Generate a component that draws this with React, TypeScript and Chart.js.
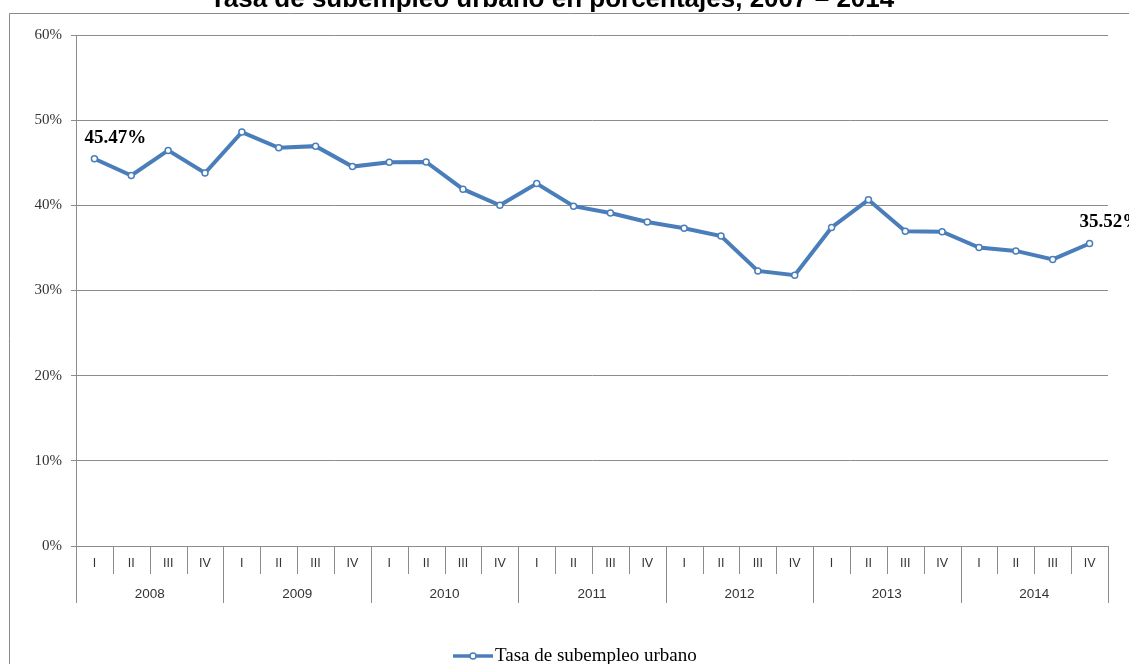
import React, { useEffect, useRef } from "react";
import { Chart, registerables } from "chart.js";

Chart.register(...registerables);

const TITLE = "Tasa de subempleo urbano en porcentajes, 2007 – 2014";
const SERIES_NAME = "Tasa de subempleo urbano";
const YEARS = ["2008", "2009", "2010", "2011", "2012", "2013", "2014"];
const QUARTERS = ["I", "II", "III", "IV"];
const CATEGORIES: string[] = YEARS.flatMap((y) => QUARTERS.map((q) => `${y} ${q}`));
const VALUES = [
  45.47, 43.5, 46.45, 43.8,
  48.6, 46.75, 46.95, 44.55,
  45.05, 45.1, 41.9, 40.0,
  42.55, 39.9, 39.1, 38.05,
  37.3, 36.4, 32.3, 31.8,
  37.4, 40.65, 36.95, 36.9,
  35.05, 34.65, 33.65, 35.52,
];
const Y_TICKS = [0, 10, 20, 30, 40, 50, 60];
const LABELED_INDEXES = [0, 27];

const BLUE = "#4a7ebb";
const GRID = "#8c8c8c";

export default function App() {
  const ref = useRef<HTMLCanvasElement | null>(null);

  useEffect(() => {
    if (!ref.current) return;
    const overlay = {
      id: "overlay",
      afterDraw(chart: any) {
        const ctx = chart.ctx as CanvasRenderingContext2D;
        const xs = chart.scales.x;
        const area = chart.chartArea;
        const n = CATEGORIES.length;
        const w = (area.right - area.left) / n;
        ctx.save();
        // outer frame
        ctx.strokeStyle = "#8a8a8a";
        ctx.lineWidth = 1;
        ctx.beginPath();
        ctx.moveTo(9.5, 664);
        ctx.lineTo(9.5, 13.5);
        ctx.lineTo(1129, 13.5);
        ctx.stroke();
        // title
        ctx.fillStyle = "#000";
        ctx.font = "bold 26px 'Liberation Sans', Arial, sans-serif";
        ctx.textAlign = "center";
        ctx.textBaseline = "alphabetic";
        ctx.fillText(TITLE, 552, 7);
        // category separators
        ctx.strokeStyle = GRID;
        for (let i = 0; i <= n; i++) {
          const x = Math.round(area.left + i * w) + 0.5;
          ctx.beginPath();
          ctx.moveTo(x, area.bottom);
          ctx.lineTo(x, i % 4 === 0 ? area.bottom + 57 : area.bottom + 28);
          ctx.stroke();
        }
        ctx.fillStyle = "#333";
        ctx.font = "12.5px 'Liberation Sans', Arial, sans-serif";
        ctx.textBaseline = "middle";
        ctx.textAlign = "center";
        for (let i = 0; i < n; i++) {
          const x = xs.getPixelForValue(i);
          ctx.fillText(QUARTERS[i % 4], x, area.bottom + 18);
        }
        ctx.font = "13.5px 'Liberation Sans', Arial, sans-serif";
        YEARS.forEach((y, j) => {
          const x = (xs.getPixelForValue(j * 4) + xs.getPixelForValue(j * 4 + 3)) / 2;
          ctx.fillText(y, x, area.bottom + 48);
        });
        // data labels
        const meta = chart.getDatasetMeta(0);
        ctx.fillStyle = "#000";
        ctx.font = "bold 19px 'Liberation Serif', 'Times New Roman', serif";
        ctx.textAlign = "left";
        ctx.textBaseline = "middle";
        LABELED_INDEXES.forEach((idx) => {
          const p = meta.data[idx];
          const txt = VALUES[idx].toFixed(2) + "%";
          ctx.fillText(txt, p.x - 10, p.y - 21);
        });
        // legend
        const ly = 656;
        ctx.strokeStyle = BLUE;
        ctx.lineWidth = 3.5;
        ctx.beginPath();
        ctx.moveTo(453, ly);
        ctx.lineTo(493, ly);
        ctx.stroke();
        ctx.beginPath();
        ctx.arc(473, ly, 3, 0, Math.PI * 2);
        ctx.fillStyle = "#fff";
        ctx.fill();
        ctx.lineWidth = 1.5;
        ctx.stroke();
        ctx.fillStyle = "#000";
        ctx.font = "19px 'Liberation Serif', 'Times New Roman', serif";
        ctx.textAlign = "left";
        ctx.textBaseline = "middle";
        ctx.fillText(SERIES_NAME, 495, ly);
        ctx.restore();
      },
    };

    const chart = new Chart(ref.current, {
      type: "line",
      data: {
        labels: CATEGORIES,
        datasets: [
          {
            label: SERIES_NAME,
            data: VALUES,
            borderColor: BLUE,
            borderWidth: 4,
            pointRadius: 3,
            pointBackgroundColor: "#fff",
            pointBorderColor: BLUE,
            pointBorderWidth: 1.5,
            tension: 0,
          },
        ],
      },
      options: {
        responsive: false,
        animation: false,
        layout: { padding: { left: 0, right: 21, top: 35, bottom: 0 } },
        plugins: {
          legend: { display: false },
          title: { display: false },
          tooltip: { enabled: false },
        },
        scales: {
          x: {
            offset: true,
            ticks: { display: false },
            grid: { display: false },
            border: { display: true, color: GRID, width: 1 },
            afterFit: (s: any) => {
              s.height = 118;
            },
          },
          y: {
            min: 0,
            max: 60,
            afterBuildTicks: (s: any) => {
              s.ticks = Y_TICKS.map((v) => ({ value: v }));
            },
            ticks: {
              color: "#333",
              padding: 9,
              font: { family: "'Liberation Serif', 'Times New Roman', serif", size: 15 },
              callback: (v: any) => `${v}%`,
            },
            grid: { color: GRID, lineWidth: 1, tickLength: 5, drawTicks: true },
            border: { display: true, color: GRID, width: 1 },
            afterFit: (s: any) => {
              s.width = 76;
            },
          },
        },
      },
      plugins: [overlay],
    });
    return () => chart.destroy();
  }, []);

  return (
    <div style={{ position: "absolute", left: 0, top: 0, width: 1129, height: 664, background: "#fff" }}>
      <canvas ref={ref} width={1129} height={664} />
    </div>
  );
}
